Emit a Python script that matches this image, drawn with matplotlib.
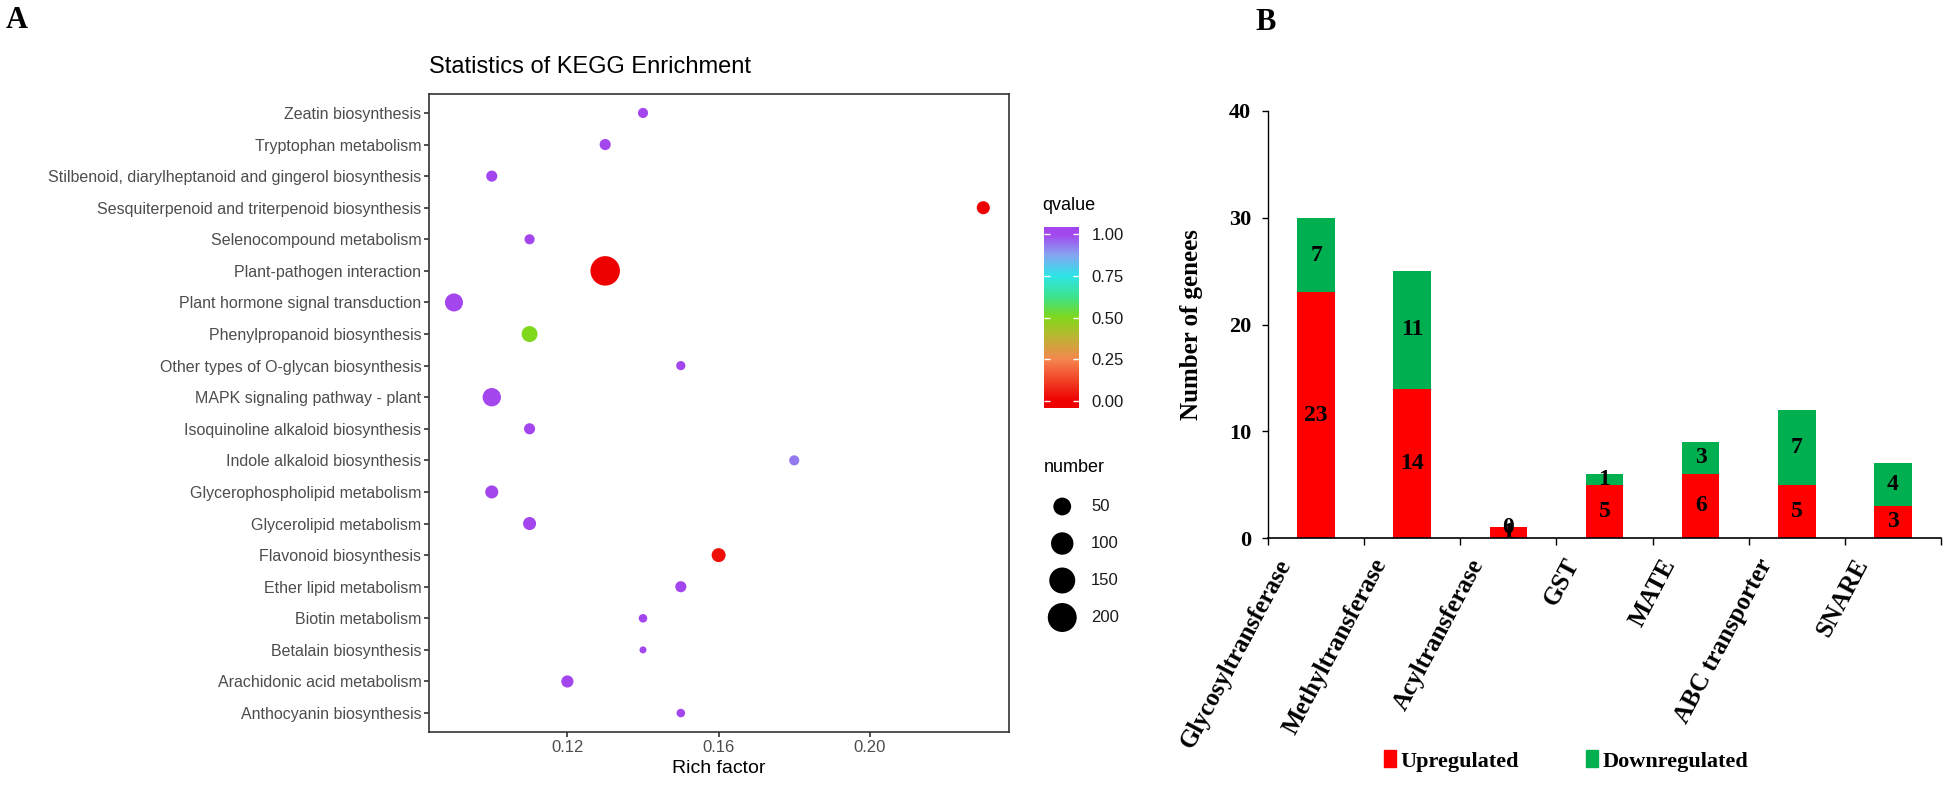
import matplotlib.pyplot as plt
import numpy as np
from matplotlib.colors import LinearSegmentedColormap, Normalize
from matplotlib.patches import Patch
from matplotlib.transforms import ScaledTranslation

# ---- panel A: KEGG enrichment (top to bottom) ----
pathways = [
    'Zeatin biosynthesis',
    'Tryptophan metabolism',
    'Stilbenoid, diarylheptanoid and gingerol biosynthesis',
    'Sesquiterpenoid and triterpenoid biosynthesis',
    'Selenocompound metabolism',
    'Plant-pathogen interaction',
    'Plant hormone signal transduction',
    'Phenylpropanoid biosynthesis',
    'Other types of O-glycan biosynthesis',
    'MAPK signaling pathway - plant',
    'Isoquinoline alkaloid biosynthesis',
    'Indole alkaloid biosynthesis',
    'Glycerophospholipid metabolism',
    'Glycerolipid metabolism',
    'Flavonoid biosynthesis',
    'Ether lipid metabolism',
    'Biotin metabolism',
    'Betalain biosynthesis',
    'Arachidonic acid metabolism',
    'Anthocyanin biosynthesis',
]
rich_factor = [0.14, 0.13, 0.10, 0.23, 0.11, 0.13, 0.09, 0.11, 0.15, 0.10,
               0.11, 0.18, 0.10, 0.11, 0.16, 0.15, 0.14, 0.14, 0.12, 0.15]
gene_number = [6, 9, 9, 17, 6, 210, 52, 35, 4, 55,
               9, 6, 17, 17, 22, 9, 3, 2, 13, 3]
qvalue = [1.0, 1.0, 1.0, 0.0, 1.0, 0.0, 1.0, 0.5, 1.0, 1.0,
          1.0, 0.93, 1.0, 1.0, 0.03, 1.0, 1.0, 1.0, 1.0, 1.0]

size_breaks = [50, 100, 150, 200]
q_breaks = [0.0, 0.25, 0.5, 0.75, 1.0]
x_breaks = [0.12, 0.16, 0.20]

# ---- panel B: gene families ----
families = ['Glycosyltransferase', 'Methyltransferase', 'Acyltransferase',
            'GST', 'MATE', 'ABC transporter', 'SNARE']
upregulated = [23, 14, 1, 5, 6, 5, 3]
downregulated = [7, 11, 0, 1, 3, 7, 4]
y_breaks = [0, 10, 20, 30, 40]

W, H = 1946, 788
fig = plt.figure(figsize=(W / 100, H / 100), dpi=100)

SANS = 'Liberation Sans'
SERIF = 'Liberation Serif'


def fbox(x0, y0, x1, y1):
    ''' figure box from pixel corners (top-left origin) '''
    return [x0 / W, 1 - y1 / H, (x1 - x0) / W, (y1 - y0) / H]


def dot_size(n):
    ''' ggplot-like area scale: diameter in px -> scatter size '''
    d = 7 + 22.5 * np.sqrt((np.asarray(n, dtype=float) - 2) / 208)
    return (d * 72 / fig.dpi) ** 2


cmap = LinearSegmentedColormap.from_list('q', [
    (0.0, '#EE0000'), (0.25, '#F5874F'), (0.38, '#BDB433'), (0.5, '#80D81A'),
    (0.62, '#3EE38A'), (0.75, '#2EE5E8'), (0.875, '#86A6F2'), (1.0, '#A446EE')])
norm = Normalize(0, 1)

# panel A
axA = fig.add_axes(fbox(429, 94, 1009, 732))
ypos = np.arange(len(pathways))
axA.scatter(rich_factor, ypos, s=dot_size(gene_number), c=qvalue, cmap=cmap,
            norm=norm, linewidths=0, zorder=3)
axA.set_ylim(len(pathways) - 0.4, -0.6)
axA.set_xlim(0.0834, 0.2368)
axA.set_yticks(ypos)
axA.set_yticklabels(pathways, family=SANS, fontsize=11.5)
axA.set_xticks(x_breaks)
axA.set_xticklabels(['%.2f' % v for v in x_breaks], family=SANS, fontsize=12)
axA.tick_params(color='#333333', labelcolor='#4D4D4D', length=3.5, width=1.2, pad=2)
for sp in axA.spines.values():
    sp.set_color('#333333')
    sp.set_linewidth(1.2)
axA.set_xlabel('Rich factor', family=SANS, fontsize=14, labelpad=4)
fig.text(429 / W, 1 - 67 / H, 'Statistics of KEGG Enrichment', family=SANS,
         fontsize=17, va='center')

# colour bar
cax = fig.add_axes(fbox(1044, 227, 1079, 408))
grad = np.linspace(-0.04, 1.04, 300)[:, None]
cax.imshow(grad, extent=(0, 1, -0.04, 1.04), origin='lower', cmap=cmap,
           norm=norm, aspect='auto')
cax.set_ylim(-0.04, 1.04)
cax.set_xticks([])
cax.set_yticks(q_breaks)
cax.set_yticklabels(['%.2f' % v for v in q_breaks], family=SANS, fontsize=12)
cax.yaxis.tick_right()
cax.tick_params(axis='y', direction='in', left=True, right=True, color='white',
                length=4.5, width=1, pad=9, labelcolor='#1A1A1A')
for sp in cax.spines.values():
    sp.set_visible(False)
fig.text(1042 / W, 1 - 205 / H, 'qvalue', family=SANS, fontsize=13, va='center')

# size legend
sax = fig.add_axes(fbox(1044, 488, 1140, 636))
sidx = np.arange(len(size_breaks))
sax.scatter(np.full(len(size_breaks), 0.19), sidx, s=dot_size(size_breaks),
            color='black', linewidths=0)
for i, b in zip(sidx, size_breaks):
    sax.text(0.49, i, str(b), family=SANS, fontsize=12, va='center',
             color='#1A1A1A')
sax.set_xlim(0, 1)
sax.set_ylim(len(size_breaks) - 0.5, -0.5)
sax.axis('off')
fig.text(1044 / W, 1 - 468 / H, 'number', family=SANS, fontsize=13, va='center')

# panel B
axB = fig.add_axes(fbox(1268, 111, 1941, 538))
xb = np.arange(len(families))
up = axB.bar(xb, upregulated, width=0.39, color='#FF0000', zorder=2)
dn = axB.bar(xb, downregulated, bottom=upregulated, width=0.39,
             color='#00B050', zorder=2)
for cont in (up, dn):
    axB.bar_label(cont, label_type='center', family=SERIF, weight='bold',
                  fontsize=17, color='black')
axB.set_xlim(-0.5, len(families) - 0.5)
axB.set_ylim(0, 40)
axB.set_yticks(y_breaks)
axB.set_yticklabels([str(v) for v in y_breaks], family=SERIF,
                    weight='bold', fontsize=16)
axB.set_xticks(xb)
axB.set_xticks(np.arange(-0.5, len(families), 1), minor=True)
axB.tick_params(axis='x', which='major', length=0, pad=16)
axB.tick_params(axis='x', which='minor', length=5, width=1, direction='out')
axB.tick_params(axis='y', length=4, width=1, pad=8)
axB.set_xticklabels(families, family=SERIF, weight='bold', fontsize=18,
                    rotation=62, ha='right', va='center', rotation_mode='anchor')
# nudge the slanted labels left, after tick_params (which resets transforms)
shift = ScaledTranslation(-22 / 72, 0, fig.dpi_scale_trans)
for lab in axB.get_xticklabels():
    lab.set_transform(lab.get_transform() + shift)
axB.spines['top'].set_visible(False)
axB.spines['right'].set_visible(False)
axB.spines['left'].set_linewidth(1)
axB.spines['bottom'].set_linewidth(1.2)
axB.set_ylabel('Number of genees', family=SERIF, weight='bold', fontsize=18)
axB.yaxis.set_label_coords(-0.097, 0.5)

fig.legend(handles=[Patch(color='#FF0000'), Patch(color='#00B050')],
           labels=['Upregulated', 'Downregulated'], loc='center',
           bbox_to_anchor=(1566 / W, 1 - 761 / H), ncol=2, frameon=False,
           prop=dict(family=SERIF, weight='bold', size=16), handlelength=0.55,
           handleheight=0.8, handletextpad=0.2, columnspacing=3.0)

fig.text(6 / W, 1 - 6 / H, 'A', family=SERIF, weight='bold', fontsize=22, va='top')
fig.text(1255 / W, 1 - 8 / H, 'B', family=SERIF, weight='bold', fontsize=22, va='top')

fig.savefig('out.png', dpi=100)
